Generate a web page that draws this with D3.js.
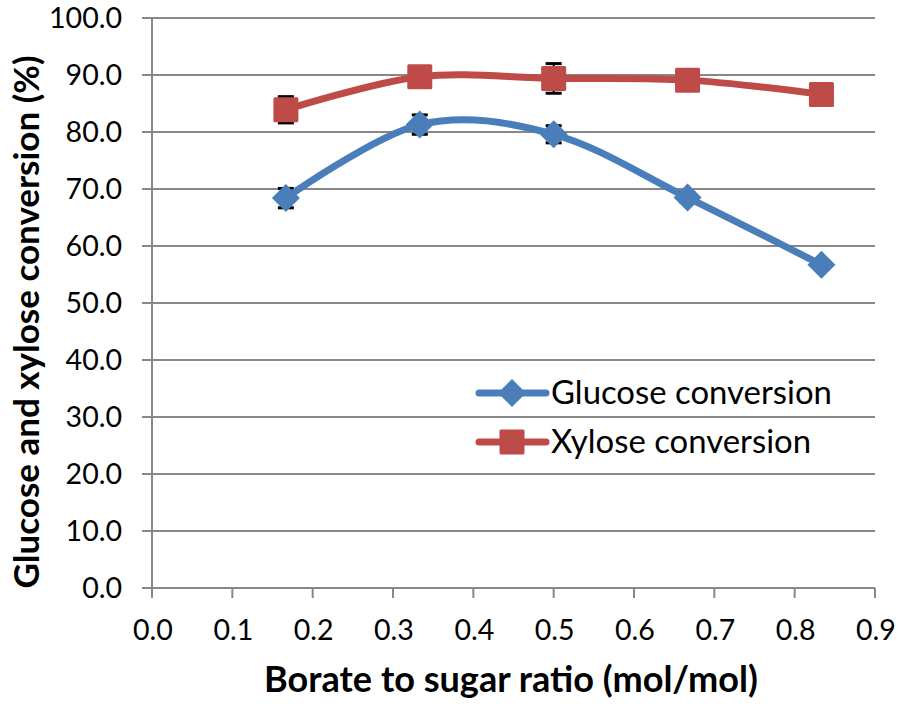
<!DOCTYPE html>
<html><head><meta charset="utf-8">
<script src="https://cdn.jsdelivr.net/npm/d3@7"></script>
<style>body{margin:0;background:#fff}svg{display:block}</style>
</head><body>
<svg id="c" width="898" height="707"></svg>
<script>
const ratios = [1/6, 2/6, 3/6, 4/6, 5/6];
const glucose = [68.4, 81.3, 79.6, 68.5, 56.7];
const glucoseErr = [1.7, 1.7, 1.5, 0.8, 0.6];
const xylose = [83.9, 89.7, 89.4, 89.1, 86.6];
const xyloseErr = [2.3, 0.8, 2.6, 0.6, 0.6];
const xTicks = [0,0.1,0.2,0.3,0.4,0.5,0.6,0.7,0.8,0.9];
const yTicks = [0,10,20,30,40,50,60,70,80,90,100];
const seriesNames = ["Glucose conversion", "Xylose conversion"];

const svg = d3.select("#c");
const font = "Lato, 'Open Sans', sans-serif";
const x = d3.scaleLinear().domain([0,0.9]).range([152,875]);
const y = d3.scaleLinear().domain([0,100]).range([588,18]);
const grid = "#878787";

function fitSize(str, width, weight){
  const t = svg.append("text").attr("font-family",font).attr("font-size",100)
    .attr("font-weight",weight||"normal").text(str);
  const w = t.node().getComputedTextLength();
  t.remove();
  return 100*width/w;
}
const tickSize = fitSize("100.0", 73);
const legendSize = fitSize(seriesNames[0], 281);
const xTitle = "Borate to sugar ratio (mol/mol)";
const yTitle = "Glucose and xylose conversion (%)";
const xTitleSize = fitSize(xTitle, 494, "bold");
const yTitleSize = Math.min(fitSize(yTitle, 536, "bold"), xTitleSize*0.97);

svg.append("g").selectAll("line").data(yTicks).join("line")
  .attr("x1",142).attr("x2",875).attr("y1",d=>y(d)).attr("y2",d=>y(d))
  .attr("stroke",grid).attr("stroke-width",2);
svg.append("line").attr("x1",152).attr("x2",152).attr("y1",y(100)).attr("y2",y(0))
  .attr("stroke",grid).attr("stroke-width",2);
svg.append("g").selectAll("line").data(xTicks).join("line")
  .attr("x1",d=>x(d)).attr("x2",d=>x(d)).attr("y1",588).attr("y2",598)
  .attr("stroke",grid).attr("stroke-width",2);

svg.append("g").selectAll("text").data(yTicks).join("text")
  .attr("x",122).attr("y",d=>y(d)+10).attr("text-anchor","end")
  .attr("font-family",font).attr("font-size",tickSize).attr("fill","#000")
  .text(d=>d.toFixed(1));
svg.append("g").selectAll("text").data(xTicks).join("text")
  .attr("x",d=>x(d)+1).attr("y",640).attr("text-anchor","middle")
  .attr("font-family",font).attr("font-size",tickSize).attr("fill","#000")
  .text(d=>d.toFixed(1));

svg.append("text").attr("x",511).attr("y",692).attr("text-anchor","middle")
  .attr("font-family",font).attr("font-weight","bold").attr("font-size",xTitleSize)
  .text(xTitle);
const yt = svg.append("text").attr("text-anchor","middle")
  .attr("font-family",font).attr("font-weight","bold").attr("font-size",yTitleSize)
  .text(yTitle);
// place baseline so that the text box stays inside the picture
const bb = yt.node().getBBox();
const bx = Math.max(34, -bb.y + 4);
yt.attr("transform",`translate(${bx},322) rotate(-90)`);

const colors = ["#4A7EBB","#BE4B48"];
const data = [glucose, xylose];
const errs = [glucoseErr, xyloseErr];
const line = d3.line().x((d,i)=>x(ratios[i])).y(d=>y(d)).curve(d3.curveCatmullRom.alpha(0));

data.forEach((vals,s)=>{
  const g = svg.append("g");
  vals.forEach((v,i)=>{
    const e = errs[s][i], cx = x(ratios[i]);
    g.append("line").attr("x1",cx).attr("x2",cx).attr("y1",y(v+e)).attr("y2",y(v-e)).attr("stroke","#000").attr("stroke-width",2);
    [v+e,v-e].forEach(t=>g.append("line").attr("x1",cx-8).attr("x2",cx+8).attr("y1",y(t)).attr("y2",y(t)).attr("stroke","#000").attr("stroke-width",3));
  });
});
data.forEach((vals,s)=>{
  svg.append("path").attr("d",line(vals)).attr("fill","none")
    .attr("stroke",colors[s]).attr("stroke-width",7).attr("stroke-linecap","round");
});
function marker(g,s,cx,cy){
  if(s===0){
    g.append("path").attr("d",`M${cx},${cy-14}L${cx+14},${cy}L${cx},${cy+14}L${cx-14},${cy}Z`).attr("fill",colors[0]);
  } else {
    g.append("rect").attr("x",cx-12.5).attr("y",cy-12.5).attr("width",25).attr("height",25).attr("rx",1.5).attr("fill",colors[1]);
  }
}
data.forEach((vals,s)=>{
  const g = svg.append("g");
  vals.forEach((v,i)=>marker(g,s,x(ratios[i]),y(v)));
});

seriesNames.forEach((n,s)=>{
  const ly = 393 + s*49;
  svg.append("line").attr("x1",479).attr("x2",546).attr("y1",ly).attr("y2",ly)
    .attr("stroke",colors[s]).attr("stroke-width",7).attr("stroke-linecap","round");
  marker(svg,s,512,ly);
  svg.append("text").attr("x",551).attr("y",ly+11).attr("font-family",font).attr("font-size",legendSize).text(n);
});
</script>
</body></html>
